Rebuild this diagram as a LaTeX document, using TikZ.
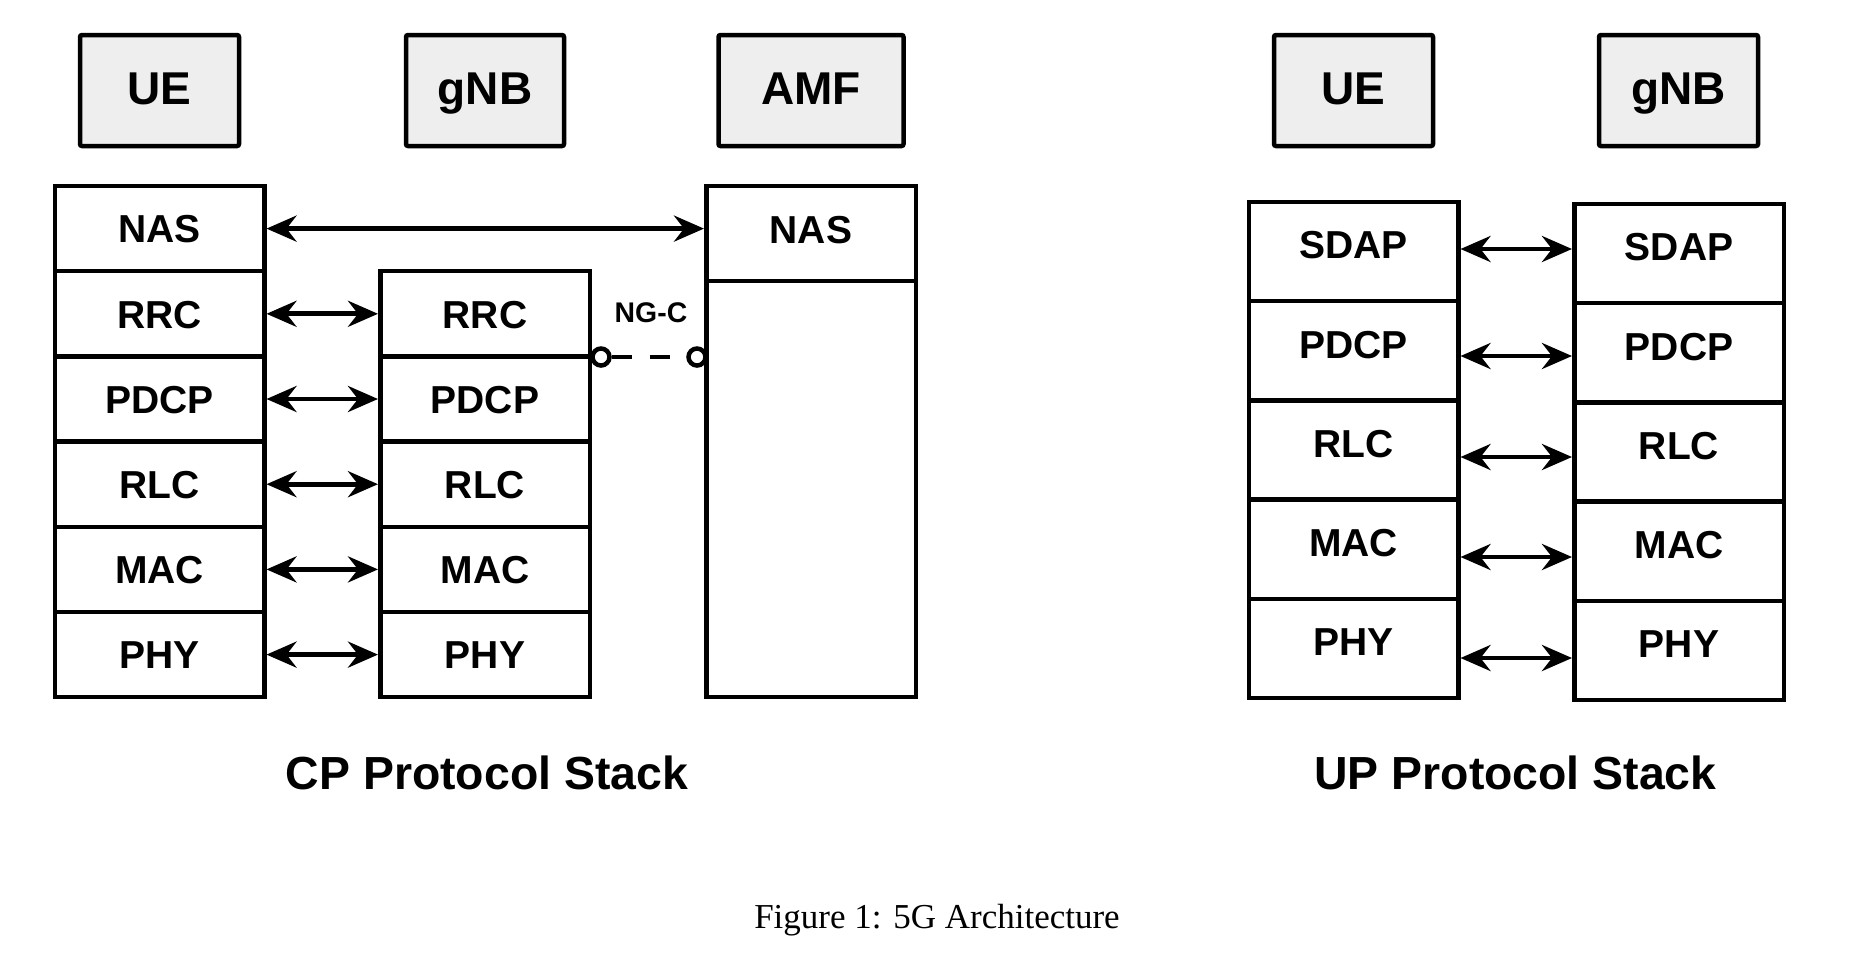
\documentclass[tikz,border=0pt]{standalone}
\usepackage{fontspec}
\setmainfont{Liberation Sans}
\newfontfamily\capfont{Liberation Serif}
\usetikzlibrary{arrows.meta}
\definecolor{hdrgray}{HTML}{EEEEEE}
\begin{document}
\begin{tikzpicture}[x=0.5pt,y=-0.5pt,
  lw/.style={line width=2.25pt},
  hdr/.style={draw, lw, fill=hdrgray, rounded corners=1pt, minimum width=#1,
    minimum height=55.5pt, inner sep=0pt, font=\fontsize{23}{23}\selectfont\bfseries,
    text height=16.7pt, text depth=2.4pt},
  cprow/.style={draw, lw, minimum width=104.75pt, minimum height=42.6pt, inner sep=0pt,
    font=\fontsize{19.5}{19.5}\selectfont\bfseries, text height=14.2pt, text depth=0pt},
  uprow/.style={cprow, minimum height=49.6pt, text depth=7pt},
  dbl/.style={line width=2.4pt,
    {Stealth[length=15pt,width=13pt,inset=5pt]}-{Stealth[length=15pt,width=13pt,inset=5pt]}},
  port/.style={circle, draw, lw, fill=white, minimum size=8.5pt, inner sep=0pt},
  ttl/.style={font=\fontsize{23.2}{23.2}\selectfont\bfseries, text height=16.9pt, text depth=0pt, inner sep=0pt},
]
\useasboundingbox (0,0) rectangle (1874,976);
% ---------- CP headers
\node[hdr=79.5pt] (cue) at (159.5,90.5) {UE};
\node[hdr=79pt] (cgnb) at (485,90.5) {gNB};
\node[hdr=92.5pt] (camf) at (811,90.5) {AMF};
% ---------- CP UE stack
\node[cprow] (un1) at (159.5,228.6) {NAS};
\node[cprow] (un2) at (159.5,313.8) {RRC};
\node[cprow] (un3) at (159.5,399) {PDCP};
\node[cprow] (un4) at (159.5,484.2) {RLC};
\node[cprow] (un5) at (159.5,569.4) {MAC};
\node[cprow] (un6) at (159.5,654.6) {PHY};
% ---------- CP gNB stack
\node[cprow] (gn2) at (485,313.8) {RRC};
\node[cprow] (gn3) at (485,399) {PDCP};
\node[cprow] (gn4) at (485,484.2) {RLC};
\node[cprow] (gn5) at (485,569.4) {MAC};
\node[cprow] (gn6) at (485,654.6) {PHY};
% ---------- AMF stack
\node[cprow, minimum height=47.5pt, text depth=4.5pt] (an1) at (811,233.5) {NAS};
\node[cprow, minimum height=208.1pt] (anb) at (811,489.1) {};
% ---------- CP arrows
\draw[dbl] (un1.east) -- (un1.east -| an1.west);
\foreach \i in {2,...,6} {\draw[dbl] (un\i.east) -- (gn\i.west);}
% ---------- NG-C
\node[font=\fontsize{14.2}{14.2}\selectfont\bfseries, text height=10.3pt, text depth=0pt, inner sep=0pt] (ngc) at (651,312) {NG-C};
\node[port] (p1) at (601,357) {};
\node[port] (p2) at (697,357) {};
\draw[lw, dash pattern=on 10pt off 9pt] (p1) -- (p2);
% ---------- UP headers
\node[hdr=79.5pt] (uue) at (1353.5,90.5) {UE};
\node[hdr=79.5pt] (ugnb) at (1678.5,90.5) {gNB};
% ---------- UP UE stack
\node[uprow] (uu1) at (1353.5,251.6) {SDAP};
\node[uprow] (uu2) at (1353.5,350.8) {PDCP};
\node[uprow] (uu3) at (1353.5,450) {RLC};
\node[uprow] (uu4) at (1353.5,549.2) {MAC};
\node[uprow] (uu5) at (1353.5,648.4) {PHY};
% ---------- UP gNB stack
\node[uprow] (ug1) at (1679,253.6) {SDAP};
\node[uprow] (ug2) at (1679,352.8) {PDCP};
\node[uprow] (ug3) at (1679,452) {RLC};
\node[uprow] (ug4) at (1679,551.2) {MAC};
\node[uprow] (ug5) at (1679,650.4) {PHY};
% ---------- UP arrows
\draw[dbl] ([yshift=1.3pt]uu1.east) -- ([yshift=1.3pt]uu1.east -| ug1.west);
\draw[dbl] ([yshift=-2.6pt]uu2.east) -- ([yshift=-2.6pt]uu2.east -| ug2.west);
\draw[dbl] ([yshift=-3.5pt]uu3.east) -- ([yshift=-3.5pt]uu3.east -| ug3.west);
\draw[dbl] ([yshift=-3.9pt]uu4.east) -- ([yshift=-3.9pt]uu4.east -| ug4.west);
\draw[dbl] ([yshift=-4.8pt]uu5.east) -- ([yshift=-4.8pt]uu5.east -| ug5.west);
% ---------- titles
\node[ttl] (cpt) at (487,773) {CP Protocol Stack};
\node[ttl] (upt) at (1515.5,773) {UP Protocol Stack};
\node[font=\capfont\fontsize{17.5}{17.5}\selectfont, text height=11.6pt, text depth=0pt, inner sep=0pt] (cap) at (937,917) {Figure 1: 5G Architecture};
\end{tikzpicture}
\end{document}
